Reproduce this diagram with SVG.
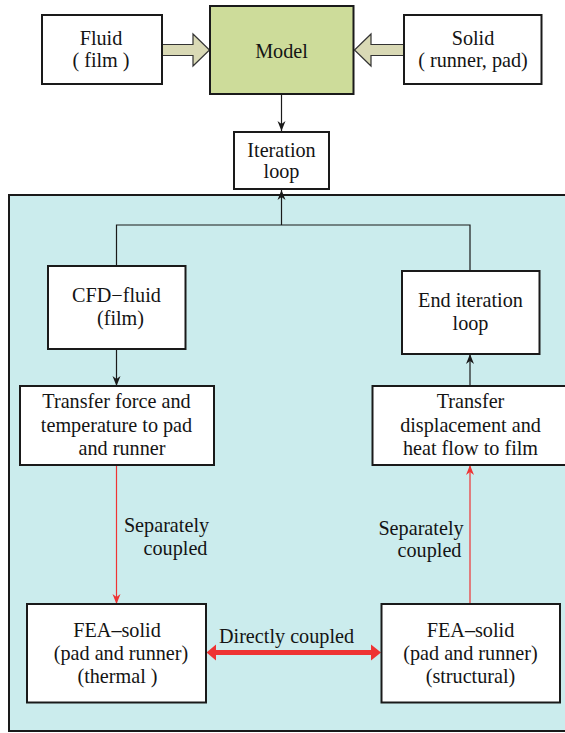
<svg xmlns="http://www.w3.org/2000/svg" width="565" height="733" viewBox="0 0 565 733" font-family="Liberation Serif, Times New Roman, DejaVu Serif, serif">
<style>
.box{fill:#ffffff;stroke:#1a1a1a;stroke-width:2}
.t{font-size:20.2px;fill:#141414;text-anchor:middle}
.ln{fill:none;stroke:#1a1a1a;stroke-width:1.2}
.rl{fill:none;stroke:#ee3333;stroke-width:1.2}
.fat{fill:#d9d9b5;stroke:#333333;stroke-width:1.2}
</style>
<defs>
<marker id="ah" viewBox="0 0 10 10" refX="10" refY="5" markerWidth="10" markerHeight="12" markerUnits="userSpaceOnUse" orient="auto">
<path d="M0,1 L10,5 L0,9 L3,5 Z" fill="#1a1a1a"/>
</marker>
<marker id="ahr" viewBox="0 0 10 10" refX="10" refY="5" markerWidth="10" markerHeight="12" markerUnits="userSpaceOnUse" orient="auto">
<path d="M0,1 L10,5 L0,9 L3,5 Z" fill="#ee3333"/>
</marker>
</defs>
<rect width="565" height="733" fill="#ffffff"/>
<g id="region">
<rect x="9" y="195" width="560" height="536" fill="#cbeced" stroke="#1a1a1a" stroke-width="2"/>
</g>
<g id="connectors">
<path class="fat" d="M162,44.5 L193,44.5 L193,34 L209.5,50 L193,66 L193,55.5 L162,55.5 Z"/>
<path class="fat" d="M404,44.5 L371,44.5 L371,34 L354.5,50 L371,66 L371,55.5 L404,55.5 Z"/>
<line class="ln" x1="281.5" y1="94" x2="281.5" y2="131" marker-end="url(#ah)"/>
<polyline class="ln" points="116.5,266 116.5,225 470,225 470,271"/>
<line class="ln" x1="281.5" y1="225" x2="281.5" y2="190" marker-end="url(#ah)"/>
<line class="ln" x1="116.5" y1="349" x2="116.5" y2="386" marker-end="url(#ah)"/>
<line class="ln" x1="470" y1="386" x2="470" y2="354" marker-end="url(#ah)"/>
<line class="rl" x1="116.5" y1="465" x2="116.5" y2="604" marker-end="url(#ahr)"/>
<line class="rl" x1="470" y1="604" x2="470" y2="465" marker-end="url(#ahr)"/>
<path d="M206.5,652.5 L216,644.5 L216,650 L371,650 L371,644.5 L381,652.5 L371,660.5 L371,655 L216,655 L216,660.5 Z" fill="#ee3333"/>
<text class="t" x="166.5" y="532">Separately</text>
<text class="t" x="175.5" y="555">coupled</text>
<text class="t" x="421" y="535">Separately</text>
<text class="t" x="429.5" y="557">coupled</text>
<text class="t" x="286.5" y="643">Directly coupled</text>
</g>
<g id="fluid">
<rect class="box" x="42" y="15" width="120" height="69"/>
<text class="t" x="101" y="45">Fluid</text>
<text class="t" x="101" y="67">( film )</text>
</g>
<g id="model">
<rect x="210" y="6" width="143.5" height="88" fill="#cddc9a" stroke="#1a1a1a" stroke-width="2"/>
<text class="t" x="281.5" y="58">Model</text>
</g>
<g id="solid">
<rect class="box" x="404" y="15" width="137.5" height="69"/>
<text class="t" x="473" y="45">Solid</text>
<text class="t" x="473" y="67">( runner, pad)</text>
</g>
<g id="iteration">
<rect class="box" x="234" y="132" width="95" height="57"/>
<text class="t" x="281.5" y="157">Iteration</text>
<text class="t" x="281.5" y="178">loop</text>
</g>
<g id="cfd">
<rect class="box" x="48" y="266" width="137.5" height="83"/>
<text class="t" x="116.5" y="302">CFD−fluid</text>
<text class="t" x="120.5" y="325">(film)</text>
</g>
<g id="end">
<rect class="box" x="402" y="271" width="137.5" height="83"/>
<text class="t" x="470.5" y="307">End iteration</text>
<text class="t" x="470.5" y="330">loop</text>
</g>
<g id="transfer-force">
<rect class="box" x="20" y="386" width="194" height="79"/>
<text class="t" x="116.5" y="408">Transfer force and</text>
<text class="t" x="116.5" y="431.5">temperature to pad</text>
<text class="t" x="122" y="455">and runner</text>
</g>
<g id="transfer-disp">
<rect class="box" x="372.5" y="386" width="195" height="79"/>
<text class="t" x="470.5" y="408">Transfer</text>
<text class="t" x="470.5" y="431.5">displacement and</text>
<text class="t" x="470.5" y="455">heat flow to film</text>
</g>
<g id="fea-thermal">
<rect class="box" x="27" y="604" width="179" height="98.5"/>
<text class="t" x="117" y="637">FEA–solid</text>
<text class="t" x="121" y="660">(pad and runner)</text>
<text class="t" x="117.5" y="683">(thermal )</text>
</g>
<g id="fea-structural">
<rect class="box" x="381.5" y="604" width="178.5" height="98.5"/>
<text class="t" x="470.5" y="637">FEA–solid</text>
<text class="t" x="470.5" y="660">(pad and runner)</text>
<text class="t" x="470.5" y="683">(structural)</text>
</g>
</svg>
